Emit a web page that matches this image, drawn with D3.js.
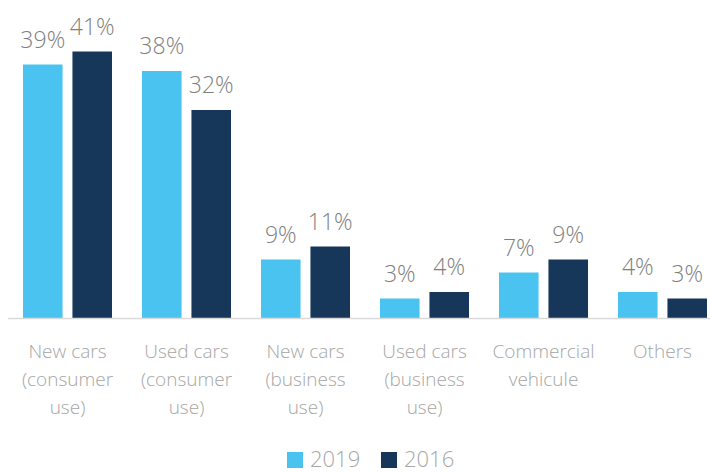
<!DOCTYPE html>
<html><head><meta charset="utf-8">
<script src="https://cdn.jsdelivr.net/npm/d3@7"></script>
<style>body{margin:0;background:#fff}svg{display:block;font-family:"Open Sans","Segoe UI",sans-serif;font-weight:300}</style>
</head><body><svg id="c" width="710" height="473"></svg>
<script>
const categories = [
  ["New cars","(consumer","use)"],
  ["Used cars","(consumer","use)"],
  ["New cars","(business","use)"],
  ["Used cars","(business","use)"],
  ["Commercial","vehicule"],
  ["Others"]
];
const seriesNames = ["2019","2016"];
const values2019 = [39,38,9,3,7,4];
const values2016 = [41,32,11,4,9,3];
const colors = ["#4BC3F0","#16375A"];

const svg = d3.select("#c");
const base = 318;
const x0 = d3.scaleBand().domain(d3.range(categories.length)).range([8,722]).paddingInner(0.252).paddingOuter(0.126);
const x1 = d3.scaleBand().domain(seriesNames).range([0,x0.bandwidth()]).paddingInner(0.2);
const y = d3.scaleLinear().domain([0,45]).range([base, base-45*6.5]);
const series = [values2019, values2016];

const g = svg.selectAll("g.grp").data(categories).enter().append("g")
  .attr("transform",(d,i)=>`translate(${x0(i)},0)`);
seriesNames.forEach((s,si)=>{
  g.append("rect").attr("x",x1(s)).attr("width",x1.bandwidth())
    .attr("y",(d,i)=>y(series[si][i])).attr("height",(d,i)=>base-y(series[si][i]))
    .attr("fill",colors[si]);
  g.append("text").attr("x",x1(s)+x1.bandwidth()/2).attr("y",(d,i)=>y(series[si][i])-17)
    .attr("text-anchor","middle").attr("font-size",23).attr("fill","#7f7f7f")
    .text((d,i)=>series[si][i]+"%");
});
svg.append("line").attr("x1",8).attr("x2",710).attr("y1",base+0.5).attr("y2",base+0.5)
  .attr("stroke","#d9d9d9").attr("stroke-width",1.5);
g.each(function(lines){
  const t = d3.select(this).append("text").attr("text-anchor","middle").attr("font-size",19).attr("fill","#a6a6a6");
  lines.forEach((l,k)=>t.append("tspan").attr("x",x0.bandwidth()/2).attr("y",358+k*28).text(l));
});
const leg = [{n:"2019",x:287},{n:"2016",x:381}];
leg.forEach((l,i)=>{
  svg.append("rect").attr("x",l.x).attr("y",452).attr("width",16).attr("height",16).attr("fill",colors[i]);
  svg.append("text").attr("x",l.x+23).attr("y",467).attr("font-size",22).attr("fill","#a6a6a6").text(l.n);
});
</script></body></html>
